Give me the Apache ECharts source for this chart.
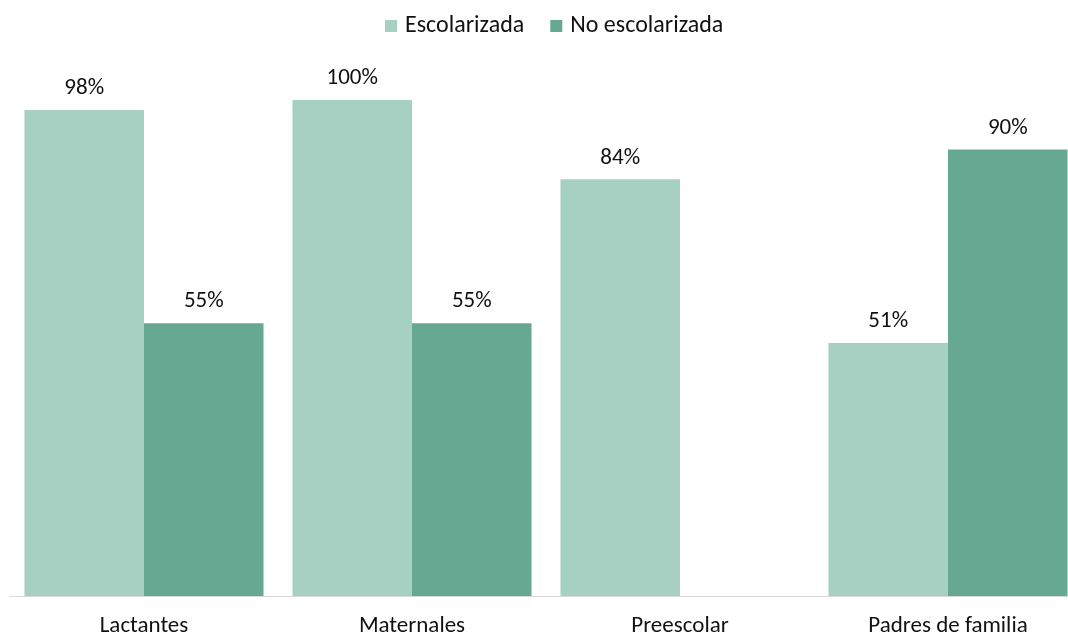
<!DOCTYPE html>
<html>
<head>
<meta charset="utf-8">
<script src="https://cdn.jsdelivr.net/npm/echarts@6/dist/echarts.min.js"></script>
<style>
  html, body { margin: 0; padding: 0; background: #fff; }
  #chart { width: 1068px; height: 636px; }
</style>
</head>
<body>
<div id="chart"></div>
<script>
const categories = ['Lactantes', 'Maternales', 'Preescolar', 'Padres de familia'];
const escolarizada = [98, 100, 84, 51];
const noEscolarizada = [55, 55, null, 90];

const font = 'Carlito, Lato, "Noto Sans", sans-serif';
const chart = echarts.init(document.getElementById('chart'));

chart.setOption({
  textStyle: { fontFamily: font },
  legend: {
    top: 9,
    left: 380,
    itemWidth: 12,
    itemHeight: 12,
    itemGap: 26,
    icon: 'rect',
    textStyle: { fontSize: 24, color: '#111', fontFamily: font, padding: [0, 0, 0, 3] },
    data: ['Escolarizada', 'No escolarizada'],
  },
  grid: { left: 10, width: 1072, top: 100, bottom: 40, outerBoundsMode: 'none', containLabel: false },
  xAxis: {
    type: 'category',
    data: categories,
    axisLine: { lineStyle: { color: '#d9d9d9', width: 1 } },
    axisTick: { show: false },
    axisLabel: { color: '#111', fontSize: 23, margin: 19, fontFamily: font },
  },
  yAxis: {
    type: 'value',
    min: 0,
    max: 100,
    show: false,
  },
  series: [
    {
      name: 'Escolarizada',
      type: 'bar',
      barGap: 0,
      barCategoryGap: '10.8%',
      itemStyle: { color: '#a5d0c2' },
      label: {
        show: true, position: 'top', distance: 10,
        formatter: '{c}%', fontSize: 23, color: '#111', fontFamily: font,
      },
      data: escolarizada,
    },
    {
      name: 'No escolarizada',
      type: 'bar',
      itemStyle: { color: '#67a893' },
      label: {
        show: true, position: 'top', distance: 10,
        formatter: '{c}%', fontSize: 23, color: '#111', fontFamily: font,
      },
      data: noEscolarizada,
    },
  ],
});
</script>
</body>
</html>
